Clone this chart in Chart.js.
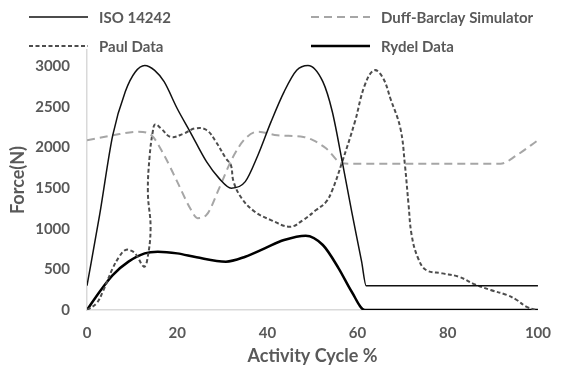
<!DOCTYPE html>
<html>
<head>
<meta charset="utf-8">
<script src="https://cdn.jsdelivr.net/npm/chart.js@4/dist/chart.umd.min.js"></script>
<style>
  html, body { margin: 0; padding: 0; background: #fff; }
  #wrap { width: 565px; height: 374px; }
</style>
</head>
<body>
<div id="wrap"><canvas id="forceChart" width="565" height="374"></canvas></div>
<script>
// data
const xTicks = [0, 20, 40, 60, 80, 100];
const yTicks = [0, 500, 1000, 1500, 2000, 2500, 3000];

const isoX = [0, 2.8, 5.7, 8.5, 10.7, 12.8, 15, 17.1, 20, 22.9, 26.5, 29.3, 32, 35.1, 37.9, 40.8, 43.7, 46.5, 49, 52.3, 54.4, 56.6, 58.7, 60.9, 61.9, 100];
const isoY = [300, 1170, 2150, 2690, 2930, 3010, 2950, 2810, 2480, 2190, 1825, 1620, 1500, 1580, 1905, 2315, 2685, 2950, 3010, 2810, 2440, 1825, 1210, 595, 300, 300];

const duffX = [0, 5.7, 11.4, 14.3, 17.1, 20, 22.9, 24.5, 26.5, 29.3, 32.2, 35.1, 37.9, 42.2, 48, 50.1, 53, 56.6, 60, 91.7, 95.3, 100];
const duffY = [2090, 2150, 2195, 2150, 1905, 1580, 1250, 1130, 1170, 1497, 1865, 2110, 2195, 2150, 2130, 2090, 1990, 1805, 1800, 1800, 1905, 2090];

const paulX = [0, 2.1, 3.5, 5.7, 7.2, 8.5, 9.8, 10.9, 12.6, 13.3, 14.1, 13.5, 13.9, 14.6, 15.1, 16.4, 18.6, 21.4, 24, 26.5, 28.6, 30.8, 31.9, 32.5, 34.3, 37.2, 40.8, 45, 48, 50.8, 53, 54.4, 56.6, 59.4, 61.6, 63.7, 65.6, 67.3, 69.5, 70.5, 71.3, 72, 73.4, 75.2, 78.8, 82.4, 86, 89.5, 93.1, 95.3, 97.4, 99.6];
const paulY = [0, 82, 225, 513, 660, 738, 730, 680, 535, 600, 1000, 1450, 1900, 2200, 2285, 2235, 2130, 2170, 2235, 2215, 2070, 1865, 1785, 1580, 1375, 1210, 1107, 1025, 1110, 1230, 1330, 1476, 1825, 2315, 2767, 2950, 2860, 2600, 2235, 1785, 1300, 920, 640, 492, 451, 410, 316, 246, 185, 123, 41, 0];

const rydelX = [0, 2.8, 5.7, 9.2, 12.8, 15.7, 20, 24.3, 30.8, 35.1, 39.4, 43.7, 48.5, 52.3, 55.8, 58.7, 61.6, 100];
const rydelY = [0, 225, 430, 595, 697, 717, 697, 648, 595, 656, 759, 861, 915, 800, 513, 225, 0, 0];

const toPoints = (xs, ys) => xs.map((x, i) => ({ x: x, y: ys[i] }));

const textGray = '#595959';
Chart.defaults.font.family = 'Lato, "Open Sans", sans-serif';
Chart.defaults.font.weight = 'bold';
Chart.defaults.color = textGray;

// two-column legend at the top, like the original
const gridLegend = {
  id: 'gridLegend',
  afterDraw(chart) {
    const ctx = chart.ctx;
    const cols = [29, 311];
    const rows = [17, 46];
    ctx.save();
    ctx.font = 'bold 15px Lato, "Open Sans", sans-serif';
    ctx.textBaseline = 'middle';
    ctx.fillStyle = textGray;
    chart.data.datasets.forEach((ds, i) => {
      const x = cols[i % 2];
      const y = rows[Math.floor(i / 2)];
      ctx.beginPath();
      ctx.strokeStyle = ds.borderColor;
      ctx.lineWidth = ds.borderWidth;
      ctx.setLineDash(ds.borderDash || []);
      ctx.moveTo(x, y);
      ctx.lineTo(x + 59, y);
      ctx.stroke();
      ctx.setLineDash([]);
      ctx.fillText(ds.label, x + 70, y + 1);
    });
    ctx.restore();
  }
};

const ctx = document.getElementById('forceChart').getContext('2d');
const forceChart = new Chart(ctx, {
  type: 'line',
  data: {
    datasets: [
      {
        label: 'ISO 14242',
        data: toPoints(isoX, isoY),
        borderColor: '#111111',
        borderWidth: 1.5,
        cubicInterpolationMode: 'monotone'
      },
      {
        label: 'Duff-Barclay Simulator',
        data: toPoints(duffX, duffY),
        borderColor: '#a6a6a6',
        borderWidth: 2,
        borderDash: [8, 5],
        cubicInterpolationMode: 'monotone'
      },
      {
        label: 'Paul Data',
        data: toPoints(paulX, paulY),
        borderColor: '#4d4d4d',
        borderWidth: 2,
        borderDash: [4, 2.5],
        tension: 0.4
      },
      {
        label: 'Rydel Data',
        data: toPoints(rydelX, rydelY),
        borderColor: '#000000',
        borderWidth: 2.5,
        cubicInterpolationMode: 'monotone'
      }
    ]
  },
  options: {
    responsive: false,
    animation: false,
    devicePixelRatio: 1,
    elements: { point: { radius: 0, hoverRadius: 0 } },
    layout: { padding: { top: 50, right: 13, left: 0, bottom: 0 } },
    plugins: {
      legend: { display: false },
      tooltip: { enabled: false }
    },
    scales: {
      x: {
        type: 'linear',
        min: 0,
        max: 100,
        afterBuildTicks: (scale) => { scale.ticks = xTicks.map(v => ({ value: v })); },
        afterFit: (scale) => { scale.height = 64; },
        ticks: { padding: 14, font: { size: 15, weight: 'bold' }, color: textGray, callback: (v) => String(v) },
        grid: { drawOnChartArea: false, drawTicks: false },
        border: { display: true, color: '#d9d9d9', width: 1.5 },
        title: {
          display: true,
          text: 'Activity Cycle %',
          font: { size: 18, weight: 'bold' },
          color: textGray,
          padding: { top: 0, bottom: 7 }
        }
      },
      y: {
        min: 0,
        max: 3200,
        afterBuildTicks: (scale) => { scale.ticks = yTicks.map(v => ({ value: v })); },
        afterFit: (scale) => { scale.width = 87; },
        ticks: { padding: 17, font: { size: 15, weight: 'bold' }, color: textGray, callback: (v) => String(v) },
        grid: { drawOnChartArea: false, drawTicks: false },
        border: { display: true, color: '#d9d9d9', width: 1.5 },
        title: {
          display: true,
          text: 'Force(N)',
          font: { size: 18, weight: 'bold' },
          color: textGray,
          padding: { top: 7, bottom: 0 }
        }
      }
    }
  },
  plugins: [gridLegend]
});
</script>
</body>
</html>
